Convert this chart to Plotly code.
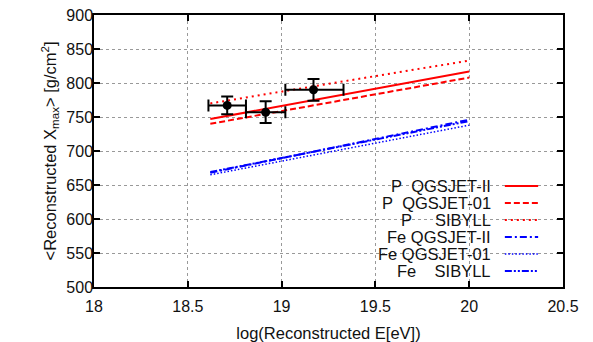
import plotly.graph_objects as go

# ---- data ----
data_x = [18.71, 18.915, 19.17]
data_y = [767, 757, 790]
data_xerr_minus = [0.10, 0.105, 0.15]
data_xerr_plus = [0.10, 0.105, 0.16]
data_yerr = [13, 16, 16]

line_x = [18.62, 20.0]
series_names = ["P  QGSJET-II", "P  QGSJET-01", "P     SIBYLL",
                "Fe QGSJET-II", "Fe QGSJET-01", "Fe    SIBYLL"]
p_qgsjet2 = [747, 817]
p_qgsjet01 = [740, 808]
p_sibyll = [770, 833]
fe_qgsjet2 = [668, 746]
fe_qgsjet01 = [665, 738]
fe_sibyll = [669, 744]

x_ticks = [18, 18.5, 19, 19.5, 20, 20.5]
x_tick_labels = ["18", "18.5", "19", "19.5", "20", "20.5"]
y_ticks = [500, 550, 600, 650, 700, 750, 800, 850, 900]

RED = "#ff0000"
BLUE = "#0000ff"
styles = [
    dict(color=RED, dash="solid", width=2),
    dict(color=RED, dash="6px,3px", width=2),
    dict(color=RED, dash="2px,4px", width=2),
    dict(color=BLUE, dash="7px,3px,2px,3px", width=2),
    dict(color=BLUE, dash="1.5px,2px", width=1.5),
    dict(color=BLUE, dash="7px,2px,2px,2px,2px,2px", width=2),
]
series_vals = [p_qgsjet2, p_qgsjet01, p_sibyll, fe_qgsjet2, fe_qgsjet01, fe_sibyll]

FONT = "Liberation Sans, Arial, sans-serif"
TXT = "#111"
fig = go.Figure()

for name, vals, st in zip(series_names, series_vals, styles):
    fig.add_trace(go.Scatter(x=line_x, y=vals, mode="lines", name=name,
                             line=st, showlegend=False))

fig.add_trace(go.Scatter(
    x=data_x, y=data_y, mode="markers", showlegend=False,
    marker=dict(color="black", size=9),
    error_x=dict(type="data", symmetric=False, array=data_xerr_plus,
                 arrayminus=data_xerr_minus, color="black", thickness=2, width=6),
    error_y=dict(type="data", array=data_yerr, color="black", thickness=2, width=6),
))

# custom gnuplot-style legend: right-aligned text, line sample at right
leg_text_x = 0.851
leg_line_x0, leg_line_x1 = 0.876, 0.947
leg_y0, leg_dy = 0.371, 0.0625
for i, (name, st) in enumerate(zip(series_names, styles)):
    yy = leg_y0 - i * leg_dy
    fig.add_annotation(x=leg_text_x, y=yy, xref="paper", yref="paper",
                       text=name.replace(" ", "\u00a0"), showarrow=False,
                       xanchor="right", yanchor="middle",
                       font=dict(family=FONT, size=16.5, color=TXT))
    fig.add_shape(type="line", xref="paper", yref="paper",
                  x0=leg_line_x0, x1=leg_line_x1, y0=yy, y1=yy,
                  line=dict(color=st["color"], dash=st["dash"], width=st["width"]))

axis_common = dict(showline=True, linecolor="black", linewidth=1.5, mirror="ticks",
                   ticks="inside", ticklen=6, tickwidth=1.5, tickcolor="black",
                   showgrid=True, gridcolor="#999", griddash="dot", gridwidth=1,
                   zeroline=False, automargin=False, ticklabeloverflow="allow",
                   tickfont=dict(family=FONT, size=16, color=TXT))

fig.update_xaxes(range=[18, 20.5], tickvals=x_ticks, ticktext=x_tick_labels,
                 ticklabelstandoff=4,
                 title=dict(text="log(Reconstructed E[eV])", standoff=14,
                            font=dict(family=FONT, size=16.5, color=TXT)),
                 **axis_common)
fig.update_yaxes(range=[500, 900], tickvals=y_ticks,
                 ticklabelstandoff=-4,
                 title=dict(text="&lt;Reconstructed X<sub>max</sub>&gt; [g/cm<sup>2</sup>]",
                            standoff=6,
                            font=dict(family=FONT, size=16.5, color=TXT)),
                 **axis_common)

# page body has an 8px default margin; size the figure so it fits the window
fig.update_layout(width=585, height=334, plot_bgcolor="white", paper_bgcolor="white",
                  margin=dict(l=86, r=30, t=7, b=55), showlegend=False)

fig.write_html("out.html")
